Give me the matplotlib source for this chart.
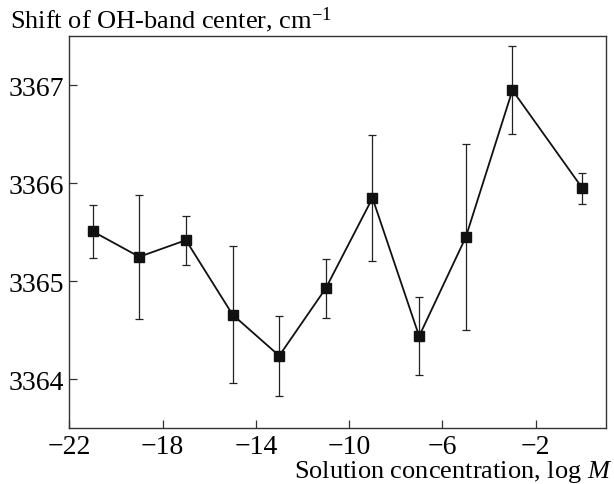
import matplotlib
matplotlib.use("Agg")
import matplotlib.pyplot as plt

plt.rcParams['font.family'] = ['Liberation Serif', 'DejaVu Serif']
plt.rcParams['mathtext.fontset'] = 'custom'
plt.rcParams['mathtext.rm'] = 'Liberation Serif'
plt.rcParams['mathtext.it'] = 'Liberation Serif:italic'

# data
log_conc = [-21, -19, -17, -15, -13, -11, -9, -7, -5, -3, 0]
shift = [3365.51, 3365.25, 3365.42, 3364.66, 3364.24, 3364.93,
         3365.85, 3364.44, 3365.45, 3366.95, 3365.95]
err = [0.27, 0.63, 0.25, 0.70, 0.41, 0.30, 0.64, 0.40, 0.95, 0.45, 0.16]

xticks = [-22, -18, -14, -10, -6, -2]
yticks = [3364, 3365, 3366, 3367]

fig = plt.figure(figsize=(6.14, 4.85), dpi=100)
ax = fig.add_axes([0.1129, 0.1148, 0.8736, 0.8083])

ax.errorbar(log_conc, shift, yerr=err, color='#111111', lw=1.3,
            marker='s', markersize=6.5, ecolor='#222222', elinewidth=0.9,
            capsize=2.8, capthick=0.9)

ax.set_xlim(-22, 1)
ax.set_ylim(3363.5, 3367.5)
ax.set_xticks(xticks)
ax.set_yticks(yticks)
ax.tick_params(direction='in', length=6, width=0.9, labelsize=20, pad=4,
               color='#333333')
for s in ax.spines.values():
    s.set_linewidth(1.0)
    s.set_color('#333333')

fig.text(10 / 614, 1 - 28 / 485, r"Shift of OH-band center, cm$^{-1}$",
         fontsize=19, ha='left', va='baseline')
fig.text(612 / 614, 1 - 478 / 485, r"Solution concentration, log $M$",
         fontsize=19, ha='right', va='baseline')

plt.savefig('out.png', dpi=100)
